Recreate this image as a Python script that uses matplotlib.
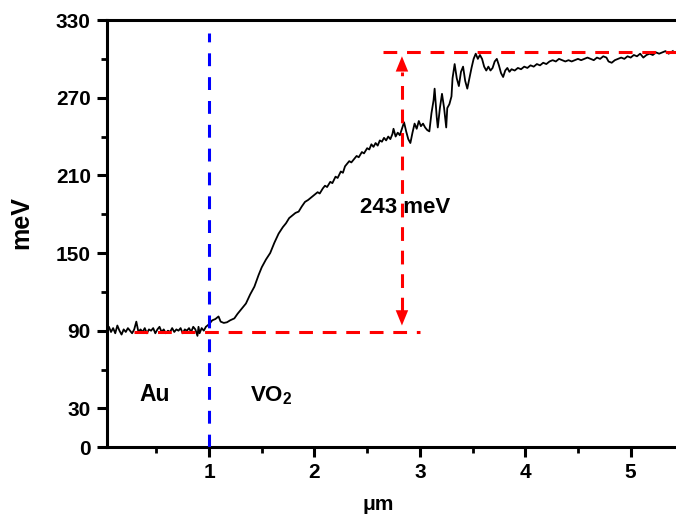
import matplotlib
matplotlib.use("Agg")
import matplotlib.pyplot as plt
from matplotlib.ticker import FixedLocator

plt.rcParams["font.family"] = ["Liberation Sans", "DejaVu Sans"]
plt.rcParams["mathtext.fontset"] = "custom"
plt.rcParams["mathtext.rm"] = "Liberation Sans"
plt.rcParams["mathtext.bf"] = "Liberation Sans:bold"

# Line profile: position (um) and energy (meV)
position = [
    0.03, 0.05, 0.07, 0.09, 0.11, 0.13, 0.15, 0.17, 0.19, 0.21, 0.23, 0.25, 0.27, 0.29,
    0.31, 0.33, 0.35, 0.37, 0.39, 0.41, 0.43, 0.45, 0.47, 0.49, 0.51, 0.53, 0.55, 0.57,
    0.59, 0.61, 0.63, 0.65, 0.67, 0.69, 0.71, 0.73, 0.75, 0.77, 0.79, 0.81, 0.83, 0.85,
    0.87, 0.89, 0.90, 0.91, 0.93, 0.95, 0.97, 1.00,
    1.03, 1.06, 1.09, 1.11, 1.14, 1.17, 1.20, 1.24, 1.27, 1.31, 1.35, 1.39, 1.43, 1.47,
    1.50, 1.54, 1.58, 1.62, 1.66, 1.70, 1.73, 1.76, 1.79, 1.82, 1.85, 1.88, 1.91, 1.94,
    1.97, 2.00, 2.03, 2.05, 2.08, 2.10, 2.12, 2.15, 2.17, 2.20, 2.22, 2.25, 2.27, 2.29,
    2.31, 2.33, 2.35, 2.38, 2.40, 2.42, 2.45, 2.47, 2.50, 2.52, 2.54, 2.56, 2.58, 2.60,
    2.62, 2.64, 2.66, 2.68, 2.70, 2.72, 2.74, 2.75, 2.77, 2.79, 2.81, 2.83, 2.85, 2.87,
    2.89, 2.91, 2.93, 2.95, 2.97, 2.99, 3.01, 3.03, 3.05, 3.07, 3.09, 3.11, 3.13, 3.14,
    3.16, 3.17, 3.19, 3.21, 3.23, 3.25, 3.26, 3.28, 3.30, 3.31, 3.33, 3.35, 3.37, 3.39,
    3.41, 3.43, 3.45, 3.47, 3.49, 3.51, 3.53, 3.55, 3.57, 3.59, 3.61, 3.63, 3.65, 3.67,
    3.69, 3.71, 3.73, 3.75, 3.77, 3.79, 3.81, 3.83, 3.85, 3.87, 3.90, 3.93, 3.96, 3.99,
    4.02, 4.05, 4.08, 4.11, 4.14, 4.17, 4.20, 4.23, 4.26, 4.29, 4.32, 4.35, 4.38, 4.41,
    4.44, 4.47, 4.50, 4.53, 4.56, 4.59, 4.62, 4.65, 4.68, 4.71, 4.74, 4.77, 4.79, 4.82,
    4.85, 4.88, 4.91, 4.94, 4.97, 5.00, 5.03, 5.06, 5.09, 5.12, 5.15, 5.18, 5.21, 5.24,
    5.27, 5.30, 5.33, 5.36, 5.40,
]
energy = [
    91, 93, 89, 92, 88, 94, 90, 87, 91, 89, 92, 90, 88, 91,
    97, 89, 91, 89, 92, 88, 91, 90, 92, 88, 91, 93, 89, 91,
    88, 90, 89, 92, 89, 91, 90, 92, 88, 91, 90, 92, 89, 93,
    91, 86, 93, 88, 92, 90, 93, 95,
    98, 99, 101, 97, 96, 96.5, 98, 99.5, 103, 107, 111, 118, 124, 133,
    139, 145, 150, 158, 165, 170, 173, 177, 179, 181, 182, 186, 189.5, 191,
    193, 195, 197, 196, 200, 202, 201, 205, 204, 209, 208, 213, 212, 217,
    219, 221, 220, 223, 225, 224, 228, 227, 231, 230, 234, 232, 235, 233,
    237, 236, 239, 237, 240, 238, 242, 246, 240, 243, 241, 246, 251, 244,
    238, 235, 243, 250, 246, 252, 248, 250, 247, 245, 244, 258, 268, 277,
    255, 247, 262, 273, 262, 247, 262, 265, 271, 285, 296, 285, 279, 290,
    294, 283, 277, 285, 293, 300, 304, 300, 303, 300, 294, 291, 294, 291,
    293, 298, 300, 295, 289, 286, 291, 293, 290, 292, 291, 293, 292, 294,
    293, 295, 294, 296, 295, 297, 296, 298, 299, 298, 300, 299, 298, 299,
    298, 299, 300, 299, 300, 301, 300, 299, 301, 300, 302, 301, 298, 297,
    299, 300, 301, 300, 302, 301, 303, 302, 304, 301, 303, 304, 303, 305,
    304, 305, 306, 304, 306,
]

# Reference levels and annotation
interface_x = 1.0
base_level = 89
top_level = 305
step_label = "243 meV"
y_major = [0, 30, 90, 150, 210, 270, 330]
y_minor = [60, 120, 180, 240, 300]
x_major = [1, 2, 3, 4, 5]
x_minor = [0.5, 1.5, 2.5, 3.5, 4.5]

fig = plt.figure(figsize=(6.76, 5.14), dpi=100)
ax = fig.add_axes([0.158, 0.130, 0.842, 0.831])

ax.plot(position, energy, color="black", lw=1.3, zorder=3)

red = "#ff0000"
dash = (0, (4.5, 3.2))
ax.plot([0.29, 3.0], [base_level, base_level], color=red, lw=2.2, ls=dash, zorder=4)
ax.plot([2.65, 5.45], [top_level, top_level], color=red, lw=2.2, ls=dash, zorder=4)
ax.plot([interface_x, interface_x], [0, 320], color="#0000ff", lw=2.2,
        ls=(0, (4.2, 3.6)), zorder=4)

# Double-headed dashed arrow
arrow_x = 2.83
ax.plot([arrow_x, arrow_x], [105, 290], color=red, lw=2.2, ls=(0, (4.5, 3.2)), zorder=4)
head = dict(arrowstyle="-|>,head_length=1.1,head_width=0.45", color=red, lw=0,
            shrinkA=0, shrinkB=0)
ax.annotate("", xy=(arrow_x, 302), xytext=(arrow_x, 289), arrowprops=head, zorder=5)
ax.annotate("", xy=(arrow_x, 94), xytext=(arrow_x, 107), arrowprops=head, zorder=5)

ax.text(2.86, 185, step_label, fontsize=16, fontweight="bold", ha="center", va="center")
ax.text(0.48, 41, "Au", fontsize=16.5, fontweight="bold", ha="center", va="center")
ax.text(1.59, 40, r"$\mathbf{VO_2}$", fontsize=16, ha="center", va="center")

ax.set_xlim(0.03, 5.43)
ax.set_ylim(0, 330)
ax.xaxis.set_major_locator(FixedLocator(x_major))
ax.xaxis.set_minor_locator(FixedLocator(x_minor))
ax.yaxis.set_major_locator(FixedLocator(y_major))
ax.yaxis.set_minor_locator(FixedLocator(y_minor))

for s in ["left", "bottom", "top"]:
    ax.spines[s].set_linewidth(2.2)
ax.spines["right"].set_visible(False)
ax.tick_params(which="major", direction="out", length=7.5, width=2.2, labelsize=15, pad=4)
ax.tick_params(which="minor", direction="out", length=4.5, width=2.0)
for lab in ax.get_xticklabels() + ax.get_yticklabels():
    lab.set_fontweight("bold")

ax.set_ylabel("meV", fontsize=18, fontweight="bold")
ax.yaxis.set_label_coords(-0.130, 0.527)
ax.set_xlabel("\u03bcm", fontsize=15, fontweight="bold")
ax.xaxis.set_label_coords(0.476, -0.113)

fig.savefig("out.png", dpi=100)
